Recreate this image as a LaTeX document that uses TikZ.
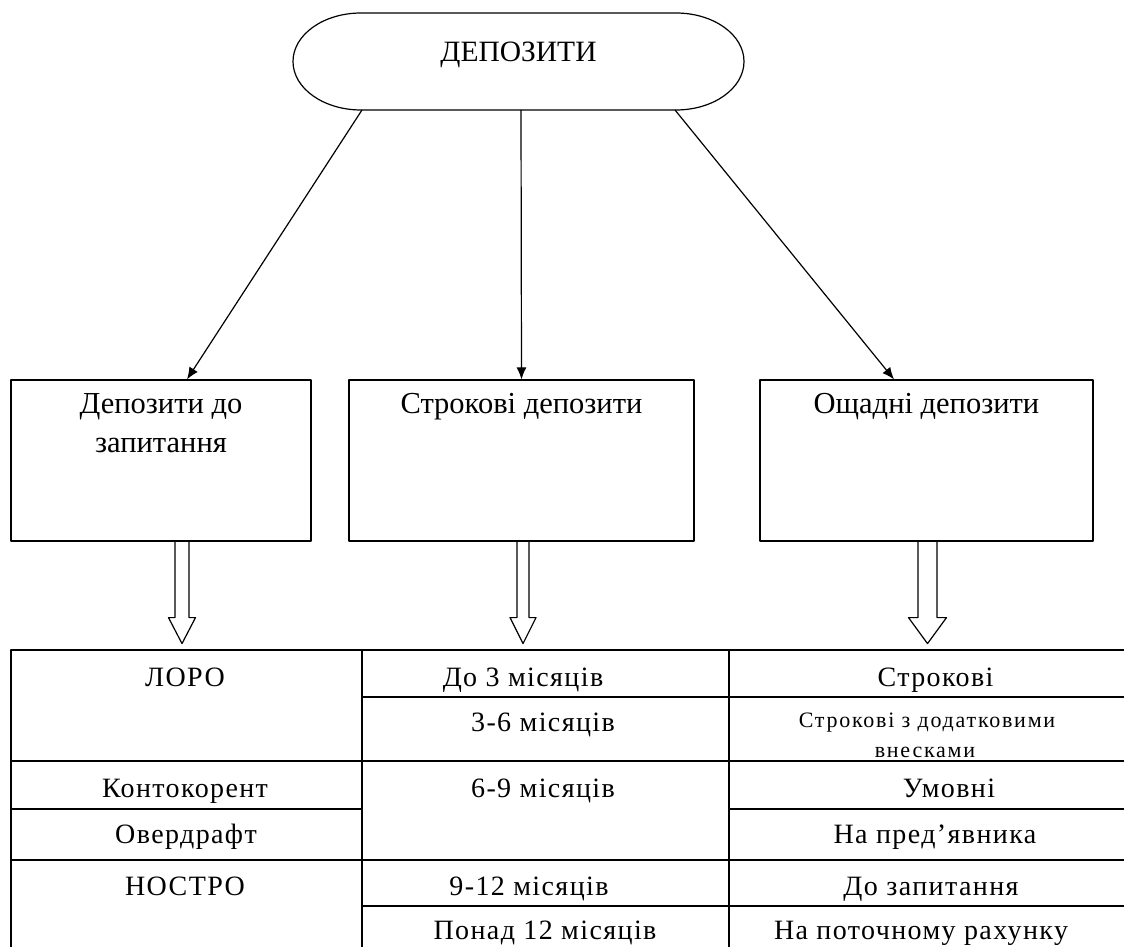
\documentclass[tikz,border=0pt]{standalone}
\usepackage{fontspec}
\setmainfont{Liberation Serif}
\newfontfamily\tablefont[LetterSpace=5]{Liberation Serif}
\newfontfamily\smallfont[LetterSpace=8]{Liberation Serif}
\usetikzlibrary{arrows.meta}
\tikzset{
  topbox/.style={inner sep=0pt, outer sep=0pt, minimum width=451pt, minimum height=97pt, font=\fontsize{29.5}{34}\selectfont, text height=14pt, text depth=14pt},
  catbox/.style={draw, inner sep=0pt, font=\fontsize{30.5}{39}\selectfont},
  cell/.style={inner sep=0pt, anchor=base, font=\tablefont\fontsize{28}{32}\selectfont},
  smallcell/.style={cell, font=\smallfont\fontsize{22}{26}\selectfont},
  thinarrow/.style={-{Latex[length=12pt,width=10pt]}},
  pics/harrow/.style args={#1/#2}{code={\draw (-#1,0) -- (-#1,-76) -- (-#2,-76) -- (0,-102) -- (#2,-76) -- (#1,-76) -- (#1,0);}}
}
\begin{document}
\begin{tikzpicture}[x=1pt,y=1pt,line width=1.2pt,line join=round]
\useasboundingbox (0,0) rectangle (1124,946);
\fill[white] (0,0) rectangle (1124,946);
% top node
\node[topbox] (top) at (518.5,884.5) {ДЕПОЗИТИ};
\draw ([xshift=68pt]top.north west) -- ([xshift=-68pt]top.north east)
  arc[start angle=90,end angle=-90,x radius=68pt,y radius=48.5pt]
  -- ([xshift=68pt]top.south west)
  arc[start angle=270,end angle=90,x radius=68pt,y radius=48.5pt] -- cycle;
% category boxes
\node[catbox] (b1) at (161,485.5) {\parbox[t][161pt][t]{300pt}{\centering\rule{0pt}{34pt}Депозити до\\запитання}};
\node[catbox] (b2) at (521.5,485.5) {\parbox[t][161pt][t]{345pt}{\centering\rule{0pt}{34pt}Строкові депозити}};
\node[catbox] (b3) at (926.5,485.5) {\parbox[t][161pt][t]{333pt}{\centering\rule{0pt}{34pt}Ощадні депозити}};
% thin arrows
\draw[thinarrow] ([xshift=-156.5pt]top.south) -- ([xshift=26pt]b1.north);
\draw[thinarrow] ([xshift=2.5pt]top.south) -- ([xshift=0pt]b2.north);
\draw[thinarrow] ([xshift=156.5pt]top.south) -- ([xshift=-32.5pt]b3.north);
% hollow arrows
\pic at ([xshift=21pt]b1.south) {harrow=7/13.5};
\pic at ([xshift=1.5pt]b2.south) {harrow=6/13};
\pic at ([xshift=1pt]b3.south) {harrow=9.5/19};
% table lines
\draw (11,-5) -- (11,296) -- (1130,296);
\draw (362,-5) -- (362,296);
\draw (729,-5) -- (729,296);
\draw (362,249) -- (1130,249);
\draw (11,185) -- (1130,185);
\draw (11,137) -- (362,137);
\draw (729,137) -- (1130,137);
\draw (11,86) -- (1130,86);
\draw (362,40) -- (1130,40);
% table cells
\node[cell] (loro) at (185,260) {ЛОРО};
\node[cell] (m3) at (523,260) {До 3 місяців};
\node[cell] (st) at (935.5,260) {Строкові};
\node[cell] (m36) at (543,215) {3-6 місяців};
\node[smallcell] (stdod) at (927,219) {Строкові з додатковими};
\node[smallcell] (vnes) at (925,189) {внесками};
\node[cell] (kont) at (185,149) {Контокорент};
\node[cell] (m69) at (543,149) {6-9 місяців};
\node[cell] (umov) at (949,149) {Умовні};
\node[cell] (over) at (186,103) {Овердрафт};
\node[cell] (pred) at (935,103) {На пред’явника};
\node[cell] (nostro) at (185,51) {НОСТРО};
\node[cell] (m912) at (529,51) {9-12 місяців};
\node[cell] (zap) at (931,51) {До запитання};
\node[cell] (ponad) at (545,7) {Понад 12 місяців};
\node[cell] (potoch) at (921,7) {На поточному рахунку};
\end{tikzpicture}
\end{document}
